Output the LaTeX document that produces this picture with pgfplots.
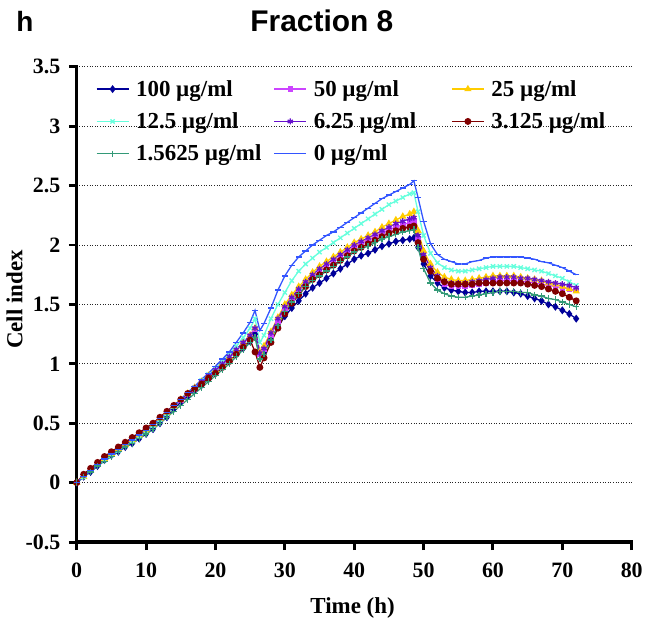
\documentclass[border=0pt]{standalone}
\usepackage{fontspec}
\setmainfont{Liberation Serif}
\newfontfamily\arial{Liberation Sans}
\usepackage{pgfplots}
\pgfplotsset{compat=1.18}
\definecolor{cA}{HTML}{000099}
\definecolor{cB}{HTML}{CC44FF}
\definecolor{cC}{HTML}{FFCC00}
\definecolor{cD}{HTML}{66FFDD}
\definecolor{cE}{HTML}{6611CC}
\definecolor{cF}{HTML}{800000}
\definecolor{cG}{HTML}{339977}
\definecolor{cH}{HTML}{3355FF}
\begin{document}
\begin{tikzpicture}
\path (-77pt,-86pt) rectangle (569pt,544pt);
\begin{axis}[name=ax, at={(0,0)}, anchor=south west, scale only axis,
 width=557pt, height=477pt,
 xmin=0, xmax=80, ymin=-0.5, ymax=3.5,
 xtick={0,10,20,30,40,50,60,70,80},
 ytick={-0.5,0,0.5,1,1.5,2,2.5,3,3.5},
 axis lines*=left, axis line style={line width=3.2pt, line cap=rect},
 tick align=outside, major tick length=8pt,
 every tick/.append style={line width=3pt, black},
 xtick style={line width=3pt, black}, ytick style={line width=3pt, black},
 ymajorgrids, grid style={dash pattern=on 1pt off 1.6pt, line width=0.9pt, black!85},
 ticklabel style={font=\fontsize{22}{26}\selectfont\bfseries},
 yticklabel style={xshift=-5pt},
 xticklabel style={yshift=-9pt},
 /pgf/number format/assume math mode=true,
 xlabel={Time (h)}, ylabel={Cell index},
 label style={font=\fontsize{23}{27}\selectfont\bfseries},
 xlabel style={at={(axis description cs:0.497,-0.138)}, anchor=center},
 ylabel style={at={(axis description cs:-0.112,0.51)}, anchor=center, rotate=0},
 legend columns=3,
 legend style={at={(axis description cs:0.029,0.978)}, anchor=north west, draw=none, fill=none,
   font=\fontsize{23}{27}\selectfont\bfseries, row sep=13pt,
   nodes={inner xsep=0pt, inner ysep=1pt},
   /tikz/every odd column/.style={column sep=7pt}},
 legend image code/.code={\draw[mark repeat=2, mark phase=2, #1] plot coordinates {(0pt,0pt) (16pt,0pt) (32pt,0pt)};},
 every axis plot/.append style={line width=1.3pt},
]
\addplot[color=cA, mark=diamond*, mark size=3pt] coordinates {
(0,0) (1,.05) (2,.09) (3,.14) (4,.19) (5,.23) (6,.26) (7,.30) (8,.33) (9,.37) (10,.41) (11,.45) (12,.50) (13,.55) (14,.62) (15,.68) (16,.73) (17,.78) (18,.82) (19,.87) (20,.92) (21,.97) (22,1.02) (23,1.08) (24,1.13) (25,1.19) (25.7,1.25) (26.4,1.08) (27,1.10) (28,1.20) (29,1.31) (30,1.40) (31,1.47) (32,1.53) (33,1.59) (34,1.64) (35,1.68) (36,1.72) (37,1.76) (38,1.80) (39,1.84) (40,1.88) (41,1.91) (42,1.93) (43,1.96) (44,1.99) (45,2.01) (46,2.03) (47,2.04) (48,2.05) (48.6,2.06) (49.2,1.98) (50,1.84) (51,1.74) (52,1.68) (53,1.64) (54,1.62) (55,1.61) (56,1.60) (57,1.60) (58,1.61) (59,1.61) (60,1.61) (61,1.61) (62,1.61) (63,1.60) (64,1.59) (65,1.57) (66,1.55) (67,1.53) (68,1.50) (69,1.48) (70,1.45) (71,1.42) (72,1.38)};
\addlegendentry{\makebox[138pt][l]{100 µg/ml}}
\addplot[color=cB, mark=square*, mark size=2.1pt] coordinates {
(0,0) (1,.06) (2,.11) (3,.16) (4,.21) (5,.25) (6,.29) (7,.33) (8,.37) (9,.41) (10,.45) (11,.49) (12,.54) (13,.59) (14,.64) (15,.69) (16,.74) (17,.79) (18,.84) (19,.89) (20,.94) (21,.99) (22,1.05) (23,1.11) (24,1.17) (25,1.23) (25.7,1.29) (26.4,1.08) (27,1.12) (28,1.24) (29,1.36) (30,1.46) (31,1.54) (32,1.61) (33,1.67) (34,1.73) (35,1.78) (36,1.82) (37,1.86) (38,1.90) (39,1.94) (40,1.98) (41,2.01) (42,2.04) (43,2.07) (44,2.10) (45,2.13) (46,2.15) (47,2.17) (48,2.19) (48.6,2.20) (49.2,2.05) (50,1.88) (51,1.78) (52,1.71) (53,1.67) (54,1.65) (55,1.65) (56,1.65) (57,1.66) (58,1.67) (59,1.68) (60,1.69) (61,1.70) (62,1.70) (63,1.70) (64,1.69) (65,1.69) (66,1.68) (67,1.67) (68,1.66) (69,1.65) (70,1.64) (71,1.63) (72,1.62)};
\addlegendentry{\makebox[138pt][l]{50 µg/ml}}
\addplot[color=cC, mark=triangle*, mark size=3pt] coordinates {
(0,0) (1,.05) (2,.10) (3,.15) (4,.20) (5,.24) (6,.28) (7,.32) (8,.36) (9,.40) (10,.44) (11,.49) (12,.54) (13,.59) (14,.64) (15,.70) (16,.75) (17,.80) (18,.85) (19,.90) (20,.95) (21,1.00) (22,1.06) (23,1.12) (24,1.18) (25,1.24) (25.7,1.30) (26.4,1.10) (27,1.15) (28,1.27) (29,1.39) (30,1.50) (31,1.58) (32,1.65) (33,1.71) (34,1.77) (35,1.82) (36,1.86) (37,1.90) (38,1.94) (39,1.98) (40,2.02) (41,2.05) (42,2.08) (43,2.11) (44,2.15) (45,2.18) (46,2.21) (47,2.24) (48,2.26) (48.6,2.28) (49.2,2.12) (50,1.95) (51,1.84) (52,1.77) (53,1.73) (54,1.71) (55,1.70) (56,1.70) (57,1.71) (58,1.72) (59,1.73) (60,1.74) (61,1.74) (62,1.74) (63,1.74) (64,1.73) (65,1.72) (66,1.71) (67,1.70) (68,1.68) (69,1.67) (70,1.65) (71,1.63) (72,1.61)};
\addlegendentry{\makebox[138pt][l]{25 µg/ml}}
\addplot[color=cD, mark=x, mark size=3pt] coordinates {
(0,0) (1,.05) (2,.10) (3,.15) (4,.19) (5,.23) (6,.27) (7,.31) (8,.35) (9,.39) (10,.43) (11,.48) (12,.53) (13,.58) (14,.64) (15,.70) (16,.75) (17,.80) (18,.86) (19,.91) (20,.96) (21,1.02) (22,1.08) (23,1.15) (24,1.22) (25,1.30) (25.7,1.38) (26.4,1.18) (27,1.24) (28,1.38) (29,1.50) (30,1.60) (31,1.70) (32,1.78) (33,1.84) (34,1.89) (35,1.94) (36,1.98) (37,2.02) (38,2.06) (39,2.10) (40,2.14) (41,2.18) (42,2.22) (43,2.26) (44,2.30) (45,2.34) (46,2.37) (47,2.40) (48,2.43) (48.6,2.44) (49.2,2.28) (50,2.08) (51,1.93) (52,1.85) (53,1.81) (54,1.79) (55,1.78) (56,1.78) (57,1.79) (58,1.80) (59,1.81) (60,1.82) (61,1.82) (62,1.82) (63,1.82) (64,1.81) (65,1.80) (66,1.79) (67,1.78) (68,1.76) (69,1.74) (70,1.72) (71,1.69) (72,1.66)};
\addlegendentry{\makebox[138pt][l]{12.5 µg/ml}}
\addplot[color=cE, mark=asterisk, mark size=3pt] coordinates {
(0,0) (1,.06) (2,.11) (3,.16) (4,.21) (5,.25) (6,.29) (7,.33) (8,.37) (9,.41) (10,.45) (11,.50) (12,.55) (13,.60) (14,.65) (15,.70) (16,.75) (17,.80) (18,.85) (19,.90) (20,.95) (21,1.00) (22,1.06) (23,1.12) (24,1.18) (25,1.24) (25.7,1.30) (26.4,1.09) (27,1.13) (28,1.26) (29,1.38) (30,1.48) (31,1.56) (32,1.63) (33,1.69) (34,1.75) (35,1.80) (36,1.84) (37,1.88) (38,1.92) (39,1.96) (40,2.00) (41,2.03) (42,2.06) (43,2.09) (44,2.12) (45,2.15) (46,2.18) (47,2.20) (48,2.22) (48.6,2.23) (49.2,2.08) (50,1.92) (51,1.81) (52,1.74) (53,1.70) (54,1.68) (55,1.68) (56,1.68) (57,1.69) (58,1.70) (59,1.71) (60,1.72) (61,1.73) (62,1.73) (63,1.73) (64,1.72) (65,1.72) (66,1.71) (67,1.70) (68,1.69) (69,1.68) (70,1.67) (71,1.66) (72,1.64)};
\addlegendentry{\makebox[138pt][l]{6.25 µg/ml}}
\addplot[color=cF, mark=*, mark size=2.8pt] coordinates {
(0,0) (1,.07) (2,.12) (3,.17) (4,.22) (5,.26) (6,.30) (7,.34) (8,.38) (9,.42) (10,.46) (11,.50) (12,.55) (13,.60) (14,.65) (15,.70) (16,.75) (17,.79) (18,.83) (19,.88) (20,.92) (21,.97) (22,1.02) (23,1.08) (24,1.14) (25,1.20) (25.7,1.10) (26.4,0.97) (27,1.05) (28,1.18) (29,1.30) (30,1.42) (31,1.51) (32,1.58) (33,1.65) (34,1.71) (35,1.75) (36,1.79) (37,1.83) (38,1.87) (39,1.91) (40,1.95) (41,1.98) (42,2.01) (43,2.04) (44,2.07) (45,2.10) (46,2.12) (47,2.14) (48,2.15) (48.6,2.16) (49.2,2.02) (50,1.88) (51,1.78) (52,1.72) (53,1.69) (54,1.67) (55,1.67) (56,1.67) (57,1.67) (58,1.68) (59,1.68) (60,1.68) (61,1.68) (62,1.68) (63,1.68) (64,1.68) (65,1.67) (66,1.66) (67,1.65) (68,1.63) (69,1.61) (70,1.59) (71,1.56) (72,1.53)};
\addlegendentry{\makebox[138pt][l]{3.125 µg/ml}}
\addplot[color=cG, mark=+, mark size=3.2pt] coordinates {
(0,0) (1,.05) (2,.09) (3,.14) (4,.18) (5,.22) (6,.26) (7,.30) (8,.33) (9,.37) (10,.41) (11,.45) (12,.50) (13,.55) (14,.60) (15,.65) (16,.70) (17,.75) (18,.80) (19,.85) (20,.90) (21,.95) (22,1.00) (23,1.06) (24,1.12) (25,1.18) (25.7,1.22) (26.4,1.04) (27,1.08) (28,1.20) (29,1.32) (30,1.44) (31,1.52) (32,1.59) (33,1.65) (34,1.70) (35,1.74) (36,1.78) (37,1.82) (38,1.86) (39,1.90) (40,1.94) (41,1.97) (42,1.99) (43,2.02) (44,2.05) (45,2.07) (46,2.09) (47,2.11) (48,2.12) (48.6,2.13) (49.2,1.98) (50,1.80) (51,1.68) (52,1.62) (53,1.59) (54,1.57) (55,1.56) (56,1.56) (57,1.57) (58,1.58) (59,1.59) (60,1.60) (61,1.61) (62,1.61) (63,1.61) (64,1.60) (65,1.60) (66,1.58) (67,1.57) (68,1.55) (69,1.54) (70,1.52) (71,1.50) (72,1.48)};
\addlegendentry{\makebox[138pt][l]{1.5625 µg/ml}}
\addplot[color=cH, mark=-, mark size=3.2pt] coordinates {
(0,0) (1,.05) (2,.10) (3,.15) (4,.20) (5,.24) (6,.28) (7,.32) (8,.36) (9,.40) (10,.44) (11,.49) (12,.54) (13,.59) (14,.65) (15,.70) (16,.76) (17,.81) (18,.87) (19,.92) (20,.98) (21,1.04) (22,1.10) (23,1.18) (24,1.26) (25,1.35) (25.7,1.45) (26.4,1.28) (27,1.34) (28,1.47) (29,1.62) (30,1.74) (31,1.83) (32,1.90) (33,1.95) (34,2.00) (35,2.04) (36,2.08) (37,2.11) (38,2.15) (39,2.19) (40,2.23) (41,2.27) (42,2.31) (43,2.35) (44,2.39) (45,2.42) (46,2.45) (47,2.48) (48,2.51) (48.6,2.54) (49.2,2.40) (50,2.20) (51,2.01) (52,1.92) (53,1.88) (54,1.86) (55,1.84) (56,1.84) (57,1.86) (58,1.87) (59,1.89) (60,1.90) (61,1.90) (62,1.90) (63,1.90) (64,1.90) (65,1.89) (66,1.88) (67,1.86) (68,1.85) (69,1.83) (70,1.81) (71,1.78) (72,1.75)};
\addlegendentry{\makebox[138pt][l]{0 µg/ml}}
\end{axis}
\node[font=\arial\bfseries\fontsize{30}{34}\selectfont, anchor=base] at (246pt,512pt) {Fraction 8};
\node[font=\arial\bfseries\fontsize{28}{34}\selectfont, anchor=base] at (-52pt,512pt) {h};
\end{tikzpicture}
\end{document}
